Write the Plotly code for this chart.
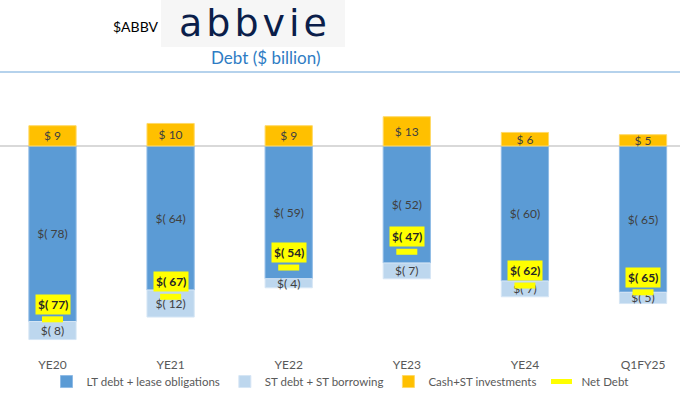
import plotly.graph_objects as go

categories = ["YE20", "YE21", "YE22", "YE23", "YE24", "Q1FY25"]
lt_debt = [78, 64, 59, 52, 60, 65]          # LT debt + lease obligations ($B, shown negative)
st_debt = [8, 12, 4, 7, 7, 5]               # ST debt + ST borrowing ($B, shown negative)
cash = [9, 10, 9, 13, 6, 5]                 # Cash + ST investments ($B)
net_debt = [-77, -67, -54, -47, -62, -65]   # Net debt ($B)

FONT = "Lato"
LBL = "#404040"

fig = go.Figure()

fig.add_trace(go.Bar(
    x=categories, y=[-v for v in lt_debt], customdata=lt_debt,
    name="LT debt + lease obligations",
    marker=dict(color="#5b9bd5", line=dict(color="#8fbbe6", width=1)),
    texttemplate="$( %{customdata})", textposition="inside",
    insidetextanchor="middle", constraintext="none",
    textfont=dict(family=FONT, size=12, color=LBL), width=0.4,
))
fig.add_trace(go.Bar(
    x=categories, y=[-v for v in st_debt], customdata=st_debt,
    name="ST debt + ST borrowing",
    marker=dict(color="#bdd7ee", line=dict(color="#d6e6f5", width=1)),
    texttemplate="$( %{customdata})", textposition="inside",
    insidetextanchor="middle", constraintext="none",
    textfont=dict(family=FONT, size=12, color=LBL), width=0.4,
))
fig.add_trace(go.Bar(
    x=categories, y=cash,
    name="Cash+ST investments",
    marker=dict(color="#ffc000", line=dict(color="#ffd966", width=1)),
    texttemplate="$ %{y}", textposition="inside",
    insidetextanchor="middle", constraintext="none",
    textfont=dict(family=FONT, size=12, color=LBL), width=0.4,
))
fig.add_trace(go.Scatter(
    x=categories, y=net_debt, mode="markers", name="Net Debt",
    marker=dict(symbol="line-ew", size=15, color="#ffff00",
                line=dict(color="#ffff00", width=6)),
))

for c, v in zip(categories, net_debt):
    fig.add_annotation(
        x=c, y=v, text=f"<b>$( {abs(v)})</b>", showarrow=False,
        yshift=15, bgcolor="#ffff00", borderpad=2,
        font=dict(family=FONT, size=12, color="#262626"),
    )

TOP, BOT = 80, 41
PH = 397 - TOP - BOT  # plot height in px


def py(px):
    return 1 + (TOP - px) / PH


# header texts
fig.add_annotation(xref="paper", yref="paper", x=136 / 680, y=py(26),
                   xanchor="center", yanchor="middle",
                   text="$ABBV", showarrow=False,
                   font=dict(family=FONT, size=14, color="#000000"))
fig.add_shape(type="rect", xref="paper", yref="paper",
              x0=161 / 680, x1=345 / 680, y0=py(47), y1=py(0),
              fillcolor="#f6f6f6", line=dict(width=0), layer="below")
fig.add_annotation(xref="paper", yref="paper", x=255 / 680, y=py(23),
                   xanchor="center", yanchor="middle",
                   text='<span style="letter-spacing:4px">abbvie</span>', showarrow=False,
                   font=dict(family="DejaVu Sans", size=38, color="#0b1e4a"))
fig.add_annotation(xref="paper", yref="paper", x=265 / 680, y=py(57),
                   xanchor="center", yanchor="middle",
                   text="Debt ($ billion)", showarrow=False,
                   font=dict(family=FONT, size=17, color="#2e7cc4"))
fig.add_shape(type="line", xref="paper", yref="paper",
              x0=0, x1=1, y0=py(72), y1=py(72),
              line=dict(color="#9dc3e6", width=1.5))

fig.update_layout(
    width=680, height=397,
    margin=dict(l=0, r=0, t=TOP, b=BOT, autoexpand=False),
    barmode="relative",
    plot_bgcolor="white", paper_bgcolor="white",
    showlegend=True,
    legend=dict(orientation="h", x=0.5, xanchor="center", y=-0.04, yanchor="top",
                bgcolor="rgba(0,0,0,0)",
                font=dict(family=FONT, size=11.5, color="#595959"),
                itemwidth=30, tracegroupgap=0),
    xaxis=dict(range=[-0.4445, 5.313], showgrid=False, showline=False,
               automargin=False,
               ticks="", tickfont=dict(family=FONT, size=12, color="#595959")),
    yaxis=dict(range=[-93.3, 29.3], showgrid=False, showticklabels=False,
               automargin=False,
               zeroline=True, zerolinecolor="#d9d9d9", zerolinewidth=1.5),
)

fig.write_html("out.html", config={"displayModeBar": False},
               post_script="document.body.style.margin='0';document.body.style.overflow='hidden';")
